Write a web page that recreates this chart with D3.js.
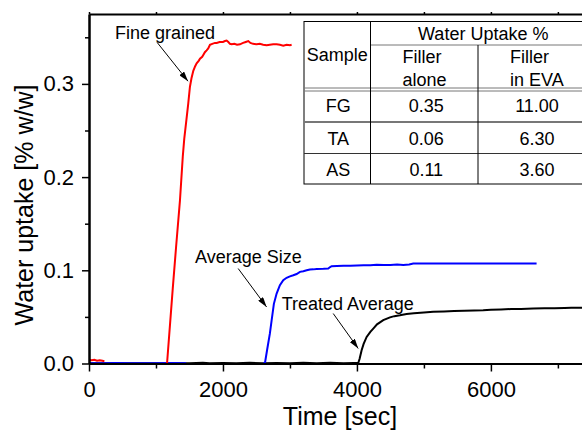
<!DOCTYPE html>
<html>
<head>
<meta charset="utf-8">
<script src="https://cdn.jsdelivr.net/npm/d3@7"></script>
<style>
  body { margin: 0; background: #fff; }
  text { font-family: "Liberation Sans", Arial, sans-serif; fill: #000; }
</style>
</head>
<body>
<div id="chart"></div>
<script>
// water uptake curves, [time sec, uptake % w/w]
// null marks a gap in the trace
var fineGrained = [
  [0,0.004],[40,0.0035],[80,0.004],[120,0.003],[160,0.0035],[200,0.003],[230,0.0025],[240,null],
  [1150,0.0003],[1165,0],[1250,0.08],[1300,0.125],[1358,0.175],[1400,0.222],[1422,0.241],[1455,0.262],
  [1482,0.279],[1507,0.297],[1530,0.306],[1557,0.314],[1585,0.319],[1607,0.322],[1640,0.325],
  [1657,0.327],[1690,0.329],[1706,0.331],[1730,0.334],[1756,0.336],[1780,0.338],[1806,0.342],
  [1840,0.343],[1880,0.344],[1906,0.344],[1950,0.345],[2000,0.345],[2030,0.346],[2055,0.3465],
  [2080,0.345],[2105,0.343],[2130,0.3425],[2170,0.343],[2210,0.342],[2254,0.3425],[2300,0.344],
  [2340,0.345],[2378,0.346],[2410,0.344],[2450,0.343],[2503,0.3425],[2550,0.343],[2600,0.342],
  [2652,0.3415],[2700,0.342],[2750,0.3425],[2801,0.3425],[2850,0.342],[2900,0.341],[2950,0.342],
  [3000,0.3415],[3025,0.342]
];

var averageSize = [
  [0,0.0004],[200,0.0003],[400,0.0005],[600,0.0003],[800,0.0004],[1000,0.0003],[1200,0.0005],
  [1450,0.0003],[1460,null],
  [2600,0.0003],[2627,0.0005],[2660,0.015],[2700,0.032],[2727,0.0465],[2760,0.064],[2801,0.075],
  [2850,0.084],[2900,0.0894],[2950,0.092],[3000,0.0935],[3050,0.0947],[3100,0.096],[3149,0.0983],
  [3200,0.099],[3250,0.1],[3298,0.1009],[3350,0.101],[3400,0.1015],[3500,0.1017],[3572,0.102],
  [3600,0.1035],[3622,0.1044],[3700,0.1047],[3800,0.105],[3900,0.105],[4000,0.1052],[4100,0.1053],
  [4200,0.1055],[4294,0.106],[4400,0.1057],[4500,0.1058],[4600,0.1063],[4692,0.1058],[4780,0.1062],
  [4841,0.1073],[5000,0.1073],[5300,0.1074],[5600,0.1073],[6000,0.1074],[6300,0.1073],[6682,0.1073]
];

var treatedAverage = [
  [0,0.0002],[500,0.0003],[1000,0.0002],[1500,0.0004],[1700,0.0008],[1800,0.0003],[2000,0.0006],
  [2200,0.0002],[2400,0.0008],[2600,0.0003],[2800,0.0006],[3000,0.0002],[3200,0.0007],[3400,0.0004],
  [3600,0.0008],[3800,0.0003],[3950,0.0006],[4020,0.0005],[4040,0.005],[4070,0.0143],[4100,0.021],
  [4145,0.0285],[4200,0.034],[4244,0.0375],[4300,0.042],[4393,0.0465],[4493,0.0495],[4560,0.0508],
  [4641,0.0518],[4741,0.0532],[4850,0.054],[5000,0.0547],[5139,0.0554],[5300,0.0558],[5450,0.0562],
  [5600,0.0566],[5750,0.0569],[5885,0.0572],[6000,0.0578],[6150,0.058],[6300,0.0584],[6450,0.0586],
  [6632,0.059],[6800,0.0592],[6950,0.0594],[7100,0.0595],[7200,0.0597],[7328,0.0597],[7360,0.0598]
];

var xTicks = [0, 2000, 4000, 6000];
var xMinor = [1000, 3000, 5000, 7000];
var yTicks = [0, 0.1, 0.2, 0.3];
var yMinor = [0.05, 0.15, 0.25, 0.35];

// labels with arrow: text anchor point, arrow start, arrow tip (data coords)
var notes = [
  {label: "Fine grained",    text: [388, 0.3485],  from: [1015, 0.3447], to: [1478, 0.3029]},
  {label: "Average Size",    text: [1582, 0.1073], from: [2227, 0.1019], to: [2651, 0.0607]},
  {label: "Treated Average", text: [2876, 0.0579], from: [3646, 0.0536], to: [4019, 0.0161]}
];

// inset table
var tableHeader = "Water Uptake %";
var tableCols = ["Sample", "Filler alone", "Filler in EVA"];
var tableSamples = ["FG", "TA", "AS"];
var fillerAlone = ["0.35", "0.06", "0.11"];
var fillerInEva = ["11.00", "6.30", "3.60"];

var margin = {top: 14, right: 0, bottom: 66.5, left: 89},
    width = 582 - margin.left - margin.right,
    height = 430 - margin.top - margin.bottom;

var svg = d3.select("#chart")
  .append("svg")
    .attr("width", 582)
    .attr("height", 430);

var g = svg.append("g")
    .attr("transform", "translate(" + margin.left + "," + margin.top + ")");

var x = d3.scaleLinear().domain([0, 7360]).range([0, width]);
var y = d3.scaleLinear().domain([0, 0.375]).range([height, 0]);

var line = d3.line()
  .defined(function(d) { return d[1] != null; })
  .x(function(d) { return x(d[0]); })
  .y(function(d) { return y(d[1]); });

// curves
g.append("path").datum(treatedAverage)
  .attr("d", line).attr("fill", "none").attr("stroke", "#000").attr("stroke-width", 2);
g.append("path").datum(averageSize)
  .attr("d", line).attr("fill", "none").attr("stroke", "#0000ff").attr("stroke-width", 2);
g.append("path").datum(fineGrained)
  .attr("d", line).attr("fill", "none").attr("stroke", "#ff0000").attr("stroke-width", 2);

// axes
function styleAxis(sel, w) {
  sel.select(".domain").attr("stroke-width", w);
  sel.selectAll(".tick line").attr("stroke-width", 1.5);
  sel.selectAll(".tick text").style("font-size", "22px").attr("font-family", null);
}

var yAxis = g.append("g")
  .call(d3.axisLeft(y).tickValues(yTicks).tickSize(7).tickSizeOuter(0).tickPadding(8)
    .tickFormat(d3.format(".1f")));
styleAxis(yAxis, 2);
var yAxisMinor = g.append("g")
  .call(d3.axisLeft(y).tickValues(yMinor).tickSize(4).tickSizeOuter(0).tickFormat(""));
styleAxis(yAxisMinor, 2);

var xAxis = g.append("g")
  .attr("transform", "translate(0," + height + ")")
  .call(d3.axisBottom(x).tickValues(xTicks).tickSize(8).tickSizeOuter(0).tickPadding(10)
    .tickFormat(d3.format("d")));
styleAxis(xAxis, 2);
var xAxisMinor = g.append("g")
  .attr("transform", "translate(0," + height + ")")
  .call(d3.axisBottom(x).tickValues(xMinor).tickSize(5).tickSizeOuter(0).tickFormat(""));
styleAxis(xAxisMinor, 2);

var topAxis = g.append("g")
  .call(d3.axisTop(x).tickValues(xTicks.concat(xMinor)).tickSize(2).tickSizeOuter(0).tickFormat(""));
styleAxis(topAxis, 2);

// axis titles
svg.append("text")
  .attr("x", 340)
  .attr("y", 425)
  .attr("text-anchor", "middle")
  .style("font-size", "25px")
  .text("Time [sec]");

svg.append("text")
  .attr("transform", "rotate(-90)")
  .attr("x", -205)
  .attr("y", 33)
  .attr("text-anchor", "middle")
  .style("font-size", "25px")
  .text("Water uptake [% w/w]");

// annotations
svg.append("defs").append("marker")
  .attr("id", "arrow")
  .attr("viewBox", "0 0 10 6")
  .attr("refX", 10).attr("refY", 3)
  .attr("markerWidth", 10).attr("markerHeight", 6)
  .attr("markerUnits", "userSpaceOnUse")
  .attr("orient", "auto")
  .append("path").attr("d", "M0,0L10,3L0,6Z").attr("fill", "#000");

notes.forEach(function(n) {
  g.append("text")
    .attr("x", x(n.text[0]))
    .attr("y", y(n.text[1]))
    .style("font-size", "18px")
    .text(n.label);
  g.append("line")
    .attr("x1", x(n.from[0])).attr("y1", y(n.from[1]))
    .attr("x2", x(n.to[0])).attr("y2", y(n.to[1]))
    .attr("stroke", "#000").attr("stroke-width", 1)
    .attr("marker-end", "url(#arrow)");
});

// inset table (runs off the right edge)
var tb = svg.append("g");
var colX = [304, 370.5, 478, 596];
var rowY = [21.5, 88, 122, 153.5, 184];

tb.append("rect")
  .attr("x", colX[0]).attr("y", rowY[0])
  .attr("width", colX[3] - colX[0]).attr("height", rowY[4] - rowY[0])
  .attr("fill", "#fff").attr("stroke", "#000").attr("stroke-width", 1);

// header lines
tb.append("line").attr("x1", colX[1]).attr("x2", colX[3]).attr("y1", 45).attr("y2", 45)
  .attr("stroke", "#777").attr("stroke-width", 1);
[88, 91].forEach(function(v) {
  tb.append("line").attr("x1", colX[0]).attr("x2", colX[3]).attr("y1", v).attr("y2", v)
    .attr("stroke", "#777").attr("stroke-width", 1);
});
tb.append("line").attr("x1", colX[0]).attr("x2", colX[3]).attr("y1", rowY[2]).attr("y2", rowY[2])
  .attr("stroke", "#777").attr("stroke-width", 2);
tb.append("line").attr("x1", colX[0]).attr("x2", colX[3]).attr("y1", rowY[3]).attr("y2", rowY[3])
  .attr("stroke", "#333").attr("stroke-width", 1);
tb.append("line").attr("x1", colX[1]).attr("x2", colX[1]).attr("y1", rowY[0]).attr("y2", rowY[4])
  .attr("stroke", "#000").attr("stroke-width", 1);
tb.append("line").attr("x1", colX[2]).attr("x2", colX[2]).attr("y1", 45).attr("y2", rowY[4])
  .attr("stroke", "#000").attr("stroke-width", 1);

function cellText(tx, ty, s, anchor) {
  tb.append("text").attr("x", tx).attr("y", ty)
    .attr("text-anchor", anchor || "middle")
    .style("font-size", "18px").text(s);
}

cellText((colX[1] + colX[3]) / 2, 39.5, tableHeader);
cellText((colX[0] + colX[1]) / 2, 60.5, tableCols[0]);
var sub1 = tableCols[1].split(" "), sub2 = tableCols[2].split(" ");
cellText(colX[1] + 32, 63, sub1[0], "start");
cellText(colX[1] + 32, 86, sub1[1], "start");
cellText(colX[2] + 32, 63, sub2[0], "start");
cellText(colX[2] + 32, 86, sub2.slice(1).join(" "), "start");

var baseY = [111.7, 145, 175.7];
tableSamples.forEach(function(s, i) {
  cellText((colX[0] + colX[1]) / 2 + 1, baseY[i], s);
  cellText((colX[1] + colX[2]) / 2 + 2, baseY[i], fillerAlone[i]);
  cellText((colX[2] + colX[3]) / 2, baseY[i], fillerInEva[i]);
});
</script>
</body>
</html>
